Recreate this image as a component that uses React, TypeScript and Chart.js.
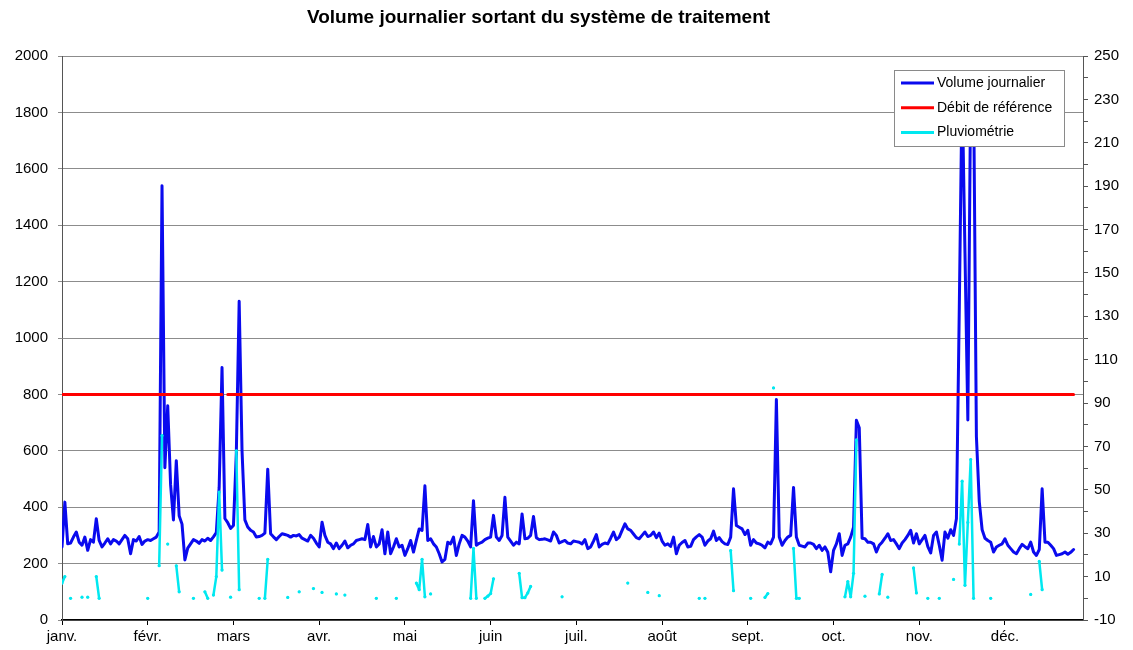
import { useEffect, useRef } from "react";
import { Chart, registerables } from "chart.js";

Chart.register(...registerables);

const chartTitle = "Volume journalier sortant du système de traitement";
const seriesNames = ["Volume journalier", "Débit de référence", "Pluviométrie"];
const monthLabels = ["janv.", "févr.", "mars", "avr.", "mai", "juin", "juil.", "août", "sept.", "oct.", "nov.", "déc."];
const monthTickDays = [0, 30, 60, 90, 120, 150, 180, 210, 240, 270, 300, 330];

// Daily volume (m3), left axis
const volume = [
  259, 418, 270, 273, 294, 312, 276, 265, 294, 247,
  285, 276, 359, 282, 259, 273, 288, 270, 285, 280,
  270, 285, 300, 288, 235, 285, 280, 296, 268, 280,
  285, 282, 288, 294, 312, 1540, 540, 760, 480, 355,
  565, 370, 340, 213, 255, 270, 285, 280, 272, 285,
  280, 290, 282, 295, 310, 470, 895, 360, 345, 325,
  335, 590, 1130, 600, 355, 330, 318, 312, 294, 296,
  300, 308, 535, 306, 295, 285, 296, 306, 303, 300,
  294, 300, 298, 303, 290, 285, 280, 300, 290, 273,
  259, 347, 300, 276, 270, 253, 273, 253, 265, 280,
  256, 265, 270, 282, 285, 288, 285, 339, 259, 296,
  259, 270, 320, 235, 312, 235, 259, 288, 259, 265,
  229, 253, 282, 241, 282, 323, 318, 476, 282, 288,
  270, 259, 235, 206, 215, 276, 270, 294, 229, 270,
  300, 294, 280, 259, 423, 265, 272, 276, 285, 290,
  294, 371, 294, 282, 300, 435, 294, 280, 265, 276,
  270, 376, 288, 290, 300, 367, 292, 285, 286, 288,
  284, 280, 312, 300, 273, 278, 282, 273, 270, 280,
  278, 276, 270, 285, 253, 259, 280, 303, 259, 268,
  273, 270, 290, 312, 285, 294, 318, 341, 323, 318,
  305, 292, 288, 300, 312, 296, 300, 312, 292, 308,
  280, 265, 270, 261, 294, 235, 265, 275, 282, 259,
  261, 285, 295, 303, 294, 265, 280, 288, 315, 282,
  292, 278, 270, 268, 294, 465, 335, 329, 323, 303,
  318, 265, 285, 273, 270, 265, 256, 276, 270, 294,
  782, 294, 265, 282, 294, 300, 470, 294, 265, 262,
  259, 273, 273, 268, 253, 265, 247, 259, 240, 171,
  247, 270, 306, 229, 265, 270, 294, 329, 708, 682,
  290, 288, 276, 276, 270, 241, 265, 276, 290, 306,
  282, 285, 270, 253, 273, 285, 300, 318, 273, 306,
  270, 285, 300, 260, 238, 300, 312, 265, 212, 312,
  290, 320, 300, 359, 1100, 1900, 1300, 709, 1900, 1900,
  650, 420, 320, 290, 282, 276, 241, 259, 265, 270,
  288, 265, 253, 241, 235, 253, 268, 260, 253, 276,
  241, 229, 250, 465, 276, 276, 265, 253, 229, 232,
  235, 241, 233, 240, 250,
];

// Reference flow (m3/j) and the one missing day in that series
const referenceFlow = 800;
const referenceGapDays = [57];

// Rainfall (mm), right axis: days with a recorded value, and the values
const rainDays = [
  0, 1, 3, 7, 9, 12, 13, 30, 34, 35, 37, 40, 41, 46, 50, 51, 53, 54, 55, 56,
  59, 61, 62, 69, 71, 72, 79, 83, 88, 91, 96, 99, 110, 117, 124, 125, 126, 127, 129, 143,
  144, 145, 148, 149, 150, 151, 160, 161, 162, 163, 164, 175, 198, 205, 209, 223, 225, 234, 235, 241,
  246, 247, 249, 256, 257, 258, 274, 275, 276, 277, 278, 281, 286, 287, 289, 298, 299, 303, 307, 312,
  314, 315, 316, 317, 318, 319, 325, 339, 342, 343,
];
const rainMm = [
  7, 10, 0, 0.5, 0.5, 10, 0, 0, 15, 75, 25, 15, 3, 0, 3, 0, 1.5, 10, 49, 13,
  0.5, 68, 4, 0, 0, 18, 0.4, 3, 4.5, 2.7, 2, 1.5, 0, 0, 7, 4, 18, 0.7, 2, 0,
  23, 0, 0, 1, 2.2, 9, 11.5, 0.3, 0.3, 2.5, 5.5, 0.7, 7, 2.7, 1.2, 0, 0, 22, 3.5, 0,
  0.4, 2.2, 97, 23, 0, 0, 0.7, 7.7, 0.7, 11.5, 73, 1, 2, 11, 0.5, 14, 2.5, 0, 0, 8.7,
  25, 54, 6, 35, 64, 0, 0, 1.8, 17, 4,
];

const COLORS = ["#0a0aee", "#ff0000", "#00e8f0"];
const FONT = "'Liberation Sans', Arial, Helvetica, sans-serif";

export default function App() {
  const canvasRef = useRef<HTMLCanvasElement | null>(null);

  useEffect(() => {
    if (!canvasRef.current) return;
    const volData = volume.map((v, i) => ({ x: i, y: v }));
    const refData = volume.map((_, i) => ({ x: i, y: referenceGapDays.includes(i) ? null : referenceFlow }));
    const rainData = volume.map((_, i) => {
      const k = rainDays.indexOf(i);
      return { x: i, y: k >= 0 ? rainMm[k] : null };
    });

    const overlay = {
      id: "overlay",
      afterDraw(chart: any) {
        const ctx = chart.ctx as CanvasRenderingContext2D;
        const a = chart.chartArea;
        ctx.save();
        // title
        ctx.font = `bold 19px ${FONT}`;
        ctx.fillStyle = "#000";
        ctx.textAlign = "center";
        ctx.textBaseline = "middle";
        ctx.fillText(chartTitle, (a.left + a.right) / 2 - 34, 18);
        // legend box
        const lx = a.right - 189, ly = a.top + 14, lw = 170, lh = 76;
        ctx.fillStyle = "#fff";
        ctx.fillRect(lx, ly, lw, lh);
        ctx.strokeStyle = "#8a8a8a";
        ctx.lineWidth = 1;
        ctx.strokeRect(lx + 0.5, ly + 0.5, lw, lh);
        ctx.font = `14px ${FONT}`;
        ctx.textAlign = "left";
        seriesNames.forEach((name, i) => {
          const yy = ly + 13 + i * 24.7;
          ctx.strokeStyle = COLORS[i];
          ctx.lineWidth = 3;
          ctx.beginPath();
          ctx.moveTo(lx + 7, yy);
          ctx.lineTo(lx + 40, yy);
          ctx.stroke();
          ctx.fillStyle = "#000";
          ctx.fillText(name, lx + 43, yy);
        });
        ctx.restore();
      },
    };

    const tickFont = { size: 15, family: FONT };
    const chart = new Chart(canvasRef.current, {
      type: "line",
      data: {
        datasets: [
          {
            label: seriesNames[0], data: volData as any, borderColor: COLORS[0], backgroundColor: COLORS[0],
            borderWidth: 3, pointRadius: 0, yAxisID: "y", order: 3,
          },
          {
            label: seriesNames[1], data: refData as any, borderColor: COLORS[1], backgroundColor: COLORS[1],
            borderWidth: 3, pointRadius: 0, yAxisID: "y", order: 2, spanGaps: false,
          },
          {
            label: seriesNames[2], data: rainData as any, borderColor: COLORS[2], backgroundColor: COLORS[2],
            borderWidth: 2.5, pointRadius: 1.6, pointBorderWidth: 0, pointBackgroundColor: COLORS[2],
            yAxisID: "y1", order: 1, spanGaps: false,
          },
        ],
      },
      options: {
        animation: false,
        responsive: true,
        maintainAspectRatio: false,
        layout: { padding: { top: 56, left: 0, right: 0, bottom: 0 } },
        elements: { line: { tension: 0, borderJoinStyle: "round", borderCapStyle: "round" } },
        plugins: { legend: { display: false }, title: { display: false }, tooltip: { enabled: false } },
        scales: {
          x: {
            type: "linear",
            min: 0,
            max: 357.3,
            afterBuildTicks: (s: any) => { s.ticks = monthTickDays.map((v) => ({ value: v })); },
            afterFit: (s: any) => { s.height = 30; },
            ticks: {
              autoSkip: false, maxRotation: 0, padding: 3, color: "#000", font: tickFont,
              callback: (v: any) => { const k = monthTickDays.indexOf(Number(v)); return k >= 0 ? monthLabels[k] : ""; },
            },
            grid: { drawOnChartArea: false, drawTicks: true, tickLength: 5, color: "#000" },
            border: { display: true, color: "#000", width: 1.5 },
          },
          y: {
            position: "left",
            min: 0,
            max: 2000,
            afterFit: (s: any) => { s.width = 62; },
            ticks: { stepSize: 200, padding: 10, color: "#000", font: tickFont, callback: (v: any) => String(v) },
            grid: { color: "#8c8c8c", lineWidth: 1, tickLength: 4 },
            border: { display: true, color: "#555", width: 1 },
          },
          y1: {
            position: "right",
            min: -10,
            max: 250,
            afterFit: (s: any) => { s.width = 50; },
            ticks: {
              stepSize: 10, autoSkip: false, padding: 6, color: "#000", font: tickFont,
              callback: (v: any) => ((Number(v) + 10) % 20 === 0 ? String(v) : ""),
            },
            grid: { drawOnChartArea: false, tickLength: 5, color: "#555" },
            border: { display: true, color: "#555", width: 1 },
          },
        },
      },
      plugins: [overlay],
    } as any);
    return () => chart.destroy();
  }, []);

  return (
    <div style={{ position: "absolute", left: 0, top: 0, width: 1133, height: 650, background: "#fff" }}>
      <canvas ref={canvasRef} />
    </div>
  );
}
